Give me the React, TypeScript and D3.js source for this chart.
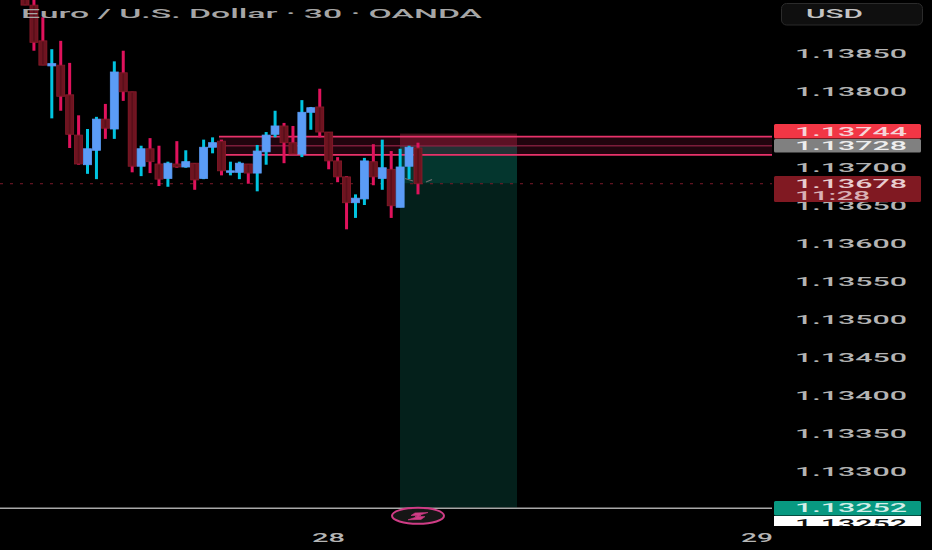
import * as d3 from "d3";

const WIDTH = 932;
const HEIGHT = 550;

// prices, in 1/100000 units
const opens = [113933, 113913, 113866, 113833, 113834, 113795, 113742, 113703, 113722, 113763, 113750, 113824, 113799, 113701, 113724, 113704, 113685, 113704, 113700, 113705, 113685, 113726, 113734, 113693, 113693, 113704, 113692, 113720, 113743, 113754, 113732, 113717, 113772, 113779, 113746, 113708, 113687, 113653, 113658, 113707, 113685, 113697, 113647, 113701, 113725];
const closes = [113913, 113864, 113834, 113836, 113793, 113743, 113704, 113724, 113763, 113751, 113825, 113799, 113701, 113724, 113707, 113684, 113705, 113700, 113707, 113683, 113726, 113732, 113695, 113695, 113705, 113692, 113721, 113742, 113754, 113732, 113717, 113772, 113778, 113746, 113708, 113687, 113653, 113659, 113708, 113687, 113699, 113649, 113700, 113726, 113678];
const highs = [113960, 113930, 113897, 113855, 113866, 113837, 113768, 113750, 113766, 113783, 113839, 113853, 113799, 113728, 113738, 113728, 113707, 113734, 113722, 113705, 113736, 113739, 113736, 113707, 113707, 113704, 113729, 113746, 113774, 113758, 113754, 113788, 113779, 113803, 113746, 113713, 113688, 113664, 113712, 113730, 113736, 113721, 113724, 113728, 113732];
const lows = [113913, 113853, 113834, 113764, 113774, 113725, 113703, 113691, 113684, 113737, 113737, 113787, 113693, 113688, 113692, 113675, 113674, 113699, 113699, 113670, 113684, 113718, 113689, 113689, 113684, 113678, 113668, 113703, 113739, 113705, 113717, 113713, 113749, 113739, 113697, 113680, 113618, 113633, 113650, 113676, 113670, 113633, 113647, 113684, 113664];

const priceTicks = [1.1385, 1.138, 1.137, 1.1365, 1.136, 1.1355, 1.135, 1.1345, 1.134, 1.1335, 1.133];
const rangeTop = 1.1374;
const rangeMid = 1.13728;
const rangeBottom = 1.13716;
const stopLevel = 1.13744;
const entryLevel = 1.13728;
const targetLevel = 1.13252;
const lastPrice = 1.13678;

const x = d3.scaleLinear().domain([0, 44]).range([25, 418]);
const y = d3.scaleLinear().domain([1.133, 1.1385]).range([471, 53]);
const p = (v: number) => y(v / 100000);

const fontFamily = "Roboto, 'Liberation Sans', sans-serif";

type LabelProps = {
  x0: number;
  x1: number;
  mid: number;
  fill: string;
  text: string;
  size?: number;
  weight?: number;
};

// the picture is stretched sideways, so the text widths are forced
const Label = ({ x0, x1, mid, fill, text, size = 12.5, weight = 500 }: LabelProps) => (
  <text
    x={x0}
    y={mid + size * 0.355}
    fill={fill}
    fontSize={size}
    fontWeight={weight}
    fontFamily={fontFamily}
    textLength={x1 - x0}
    lengthAdjust="spacingAndGlyphs"
  >
    {text}
  </text>
);

export default function App() {
  const bodyW = 8;
  const wickW = 3;
  const zoneX0 = 400;
  const zoneX1 = 517;
  const rangeX0 = 219;
  const plotRight = 772;
  const bolt = d3.line()([
    [428, 512.5],
    [415, 512.9],
    [411, 515.5],
    [421, 515.5],
    [408, 519.8],
    [421, 519.4],
    [425, 516.6],
    [415, 516.6],
  ]);

  return (
    <svg
      width={WIDTH}
      height={HEIGHT}
      viewBox={`0 0 ${WIDTH} ${HEIGHT}`}
      style={{ position: "absolute", left: 0, top: 0, background: "#000" }}
    >
      <defs>
        <clipPath id="white-label">
          <rect x={774} y={516} width={147} height={10} />
        </clipPath>
      </defs>
      <rect width={WIDTH} height={HEIGHT} fill="#000" />

      {/* position tool */}
      <rect x={zoneX0} y={y(stopLevel)} width={zoneX1 - zoneX0} height={y(entryLevel) - y(stopLevel)} fill="#45101a" />
      <rect x={zoneX0} y={y(entryLevel)} width={zoneX1 - zoneX0} height={y(lastPrice) - y(entryLevel)} fill="#04362e" />
      <rect x={zoneX0} y={y(lastPrice)} width={zoneX1 - zoneX0} height={y(targetLevel) - y(lastPrice)} fill="#04201b" />
      <line x1={zoneX0} x2={zoneX1} y1={y(entryLevel)} y2={y(entryLevel)} stroke="#6f6f6f" strokeWidth={1} />

      {/* marked range */}
      <rect x={rangeX0} y={y(rangeTop)} width={plotRight - rangeX0} height={y(rangeBottom) - y(rangeTop)} fill="#e91e63" fillOpacity={0.14} />
      <line x1={rangeX0} x2={plotRight} y1={y(rangeTop)} y2={y(rangeTop)} stroke="#e8326a" strokeWidth={1.8} />
      <line x1={rangeX0} x2={plotRight} y1={y(rangeMid)} y2={y(rangeMid)} stroke="#7c1c3a" strokeWidth={1.6} />
      <line x1={rangeX0} x2={plotRight} y1={y(rangeBottom)} y2={y(rangeBottom)} stroke="#e8326a" strokeWidth={1.8} />

      {/* last price line */}
      <line x1={0} x2={plotRight} y1={y(lastPrice)} y2={y(lastPrice)} stroke="#7a1a2a" strokeWidth={1} strokeDasharray="3 7" />

      {opens.map((o, i) => {
        const c = closes[i];
        const up = c >= o;
        const top = p(Math.max(o, c));
        const bottom = p(Math.min(o, c));
        return (
          <g key={i}>
            <line
              x1={x(i)}
              x2={x(i)}
              y1={p(highs[i])}
              y2={p(lows[i])}
              stroke={up ? "#00c4e0" : "#e0125c"}
              strokeWidth={wickW}
            />
            <rect
              x={x(i) - bodyW / 2}
              y={top}
              width={bodyW}
              height={Math.max(bottom - top, 1)}
              fill={up ? "#5b9cf6" : "#6e1420"}
              stroke={up ? "#5b9cf6" : "#8a1a2a"}
              strokeWidth={0.8}
            />
            {!up && (
              <line x1={x(i)} x2={x(i)} y1={top + 1} y2={bottom - 1} stroke="#5a0f1a" strokeWidth={1.6} />
            )}
          </g>
        );
      })}

      {/* short arrow of the position tool */}
      <path d="M405,178.5L413,181M426,182L432,179.5" fill="none" stroke="#6f6f6f" strokeWidth={1.2} />

      {/* target line and event badge */}
      <line x1={0} x2={plotRight} y1={y(targetLevel) + 0.8} y2={y(targetLevel) + 0.8} stroke="#a8a8a8" strokeWidth={1.4} />
      <ellipse cx={418} cy={515.8} rx={26} ry={8} fill="#161616" stroke="#d03c86" strokeWidth={2} />
      <path d={`${bolt}Z`} fill="#d03c86" stroke="#d03c86" strokeWidth={0.6} />

      {/* title */}
      <Label x0={21} x1={482} mid={13} fill="#a6a6a6" text="Euro / U.S. Dollar · 30 · OANDA" size={13} />

      {/* price axis */}
      {priceTicks.map((t) => (
        <Label key={t} x0={795} x1={907} mid={y(t) + 1} fill="#b4b4b4" text={t.toFixed(5)} />
      ))}

      <rect x={774} y={124} width={147} height={14.5} rx={1.5} fill="#f23645" />
      <Label x0={795} x1={907} mid={131.5} fill="#f6d4d8" text={stopLevel.toFixed(5)} />
      <rect x={774} y={139} width={147} height={13.5} rx={1.5} fill="#808080" />
      <Label x0={795} x1={907} mid={146} fill="#eeeeee" text={entryLevel.toFixed(5)} />
      <rect x={774} y={176} width={147} height={26} rx={1.5} fill="#801922" />
      <Label x0={795} x1={907} mid={183.8} fill="#e9cdd0" text={lastPrice.toFixed(5)} />
      <Label x0={795} x1={870} mid={195.8} fill="#d9b0b5" text="11:28" />

      <rect x={774} y={501} width={147} height={14.5} rx={1.5} fill="#089981" />
      <Label x0={795} x1={907} mid={508} fill="#d4efe9" text={targetLevel.toFixed(5)} />
      <rect x={774} y={516} width={147} height={10} fill="#ffffff" />
      <g clipPath="url(#white-label)">
        <Label x0={795} x1={907} mid={523.5} fill="#111111" text={targetLevel.toFixed(5)} />
      </g>

      {/* currency button */}
      <rect x={781.5} y={3.5} width={141} height={21.5} rx={5} fill="#0f0f0f" stroke="#2b2b2b" />
      <Label x0={806} x1={863} mid={14} fill="#c4c4c4" text="USD" />

      {/* time axis */}
      <Label x0={312} x1={345} mid={538} fill="#b5b5b5" text="28" />
      <Label x0={741} x1={773} mid={538} fill="#b5b5b5" text="29" />
    </svg>
  );
}
